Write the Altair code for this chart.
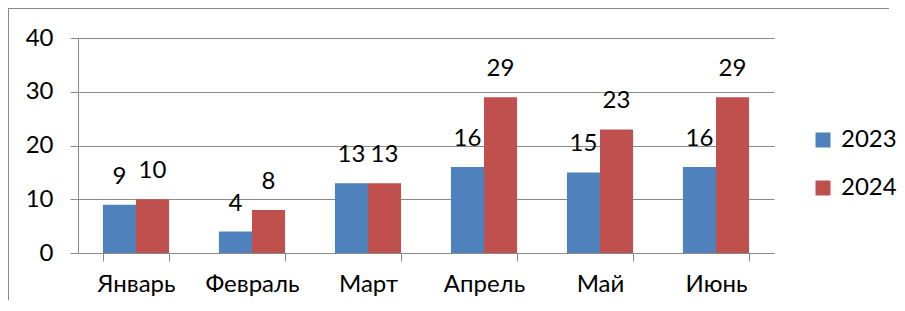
import altair as alt
import pandas as pd

months = ["Январь", "Февраль", "Март", "Апрель", "Май", "Июнь"]
years = ["2023", "2024"]
v2023 = [9, 4, 13, 16, 15, 16]
v2024 = [10, 8, 13, 29, 23, 29]
colors = ["#4F81BD", "#C0504D"]

rows = []
for i, m in enumerate(months):
    rows.append({"month": m, "year": "2023", "value": v2023[i]})
    rows.append({"month": m, "year": "2024", "value": v2024[i]})
df = pd.DataFrame(rows)

FONT = "Lato"
FS = 24
GRAY = "#8a8a8a"

x = alt.X(
    "month:N",
    sort=months,
    scale=alt.Scale(paddingInner=0.43, paddingOuter=0.215),
    axis=alt.Axis(
        title=None, labelAngle=0, tickBand="extent", tickSize=8, labelPadding=11,
        labelFont=FONT, labelFontSize=FS, labelColor="black",
        domainColor=GRAY, tickColor=GRAY, grid=False,
    ),
)
y = alt.Y(
    "value:Q",
    scale=alt.Scale(domain=[0, 40], nice=False),
    axis=alt.Axis(
        title=None, values=[0, 10, 20, 30, 40], tickSize=8, labelPadding=17,
        labelFont=FONT, labelFontSize=FS, labelColor="black",
        domainColor=GRAY, tickColor=GRAY, gridColor=GRAY, grid=True,
    ),
)
xo = alt.XOffset("year:N", sort=years, scale=alt.Scale(paddingInner=0, paddingOuter=0))

bars = alt.Chart(df).mark_bar().encode(
    x=x, y=y, xOffset=xo,
    color=alt.Color(
        "year:N", sort=years, scale=alt.Scale(domain=years, range=colors),
        legend=alt.Legend(
            title=None, orient="none", legendX=733, legendY=90, symbolType="square",
            symbolSize=225, symbolStrokeWidth=0, labelFont=FONT, labelFontSize=FS,
            labelColor="black", rowPadding=24, padding=0, labelOffset=6,
        ),
    ),
)

labels = alt.Chart(df).mark_text(
    dy=-28, baseline="middle", fontSize=FS, font=FONT, color="black"
).encode(x=x, y=y, xOffset=xo, text="value:Q")

frame_df = pd.DataFrame({"a": [0]})
frame_left = alt.Chart(frame_df).mark_rule(color=GRAY, strokeWidth=1).encode(
    x=alt.value(-69.5), y=alt.value(-30), y2=alt.value(262)
)
frame_top = alt.Chart(frame_df).mark_rule(color=GRAY, strokeWidth=1).encode(
    x=alt.value(-70), x2=alt.value(811), y=alt.value(-29.5)
)

chart = alt.layer(bars, labels, frame_left, frame_top).properties(
    width=696, height=215, autosize="none",
    padding={"left": 70, "top": 30, "right": 123, "bottom": 47},
).configure_view(stroke=None)

chart.save("out.html", embed_options={"renderer": "svg", "actions": False})
